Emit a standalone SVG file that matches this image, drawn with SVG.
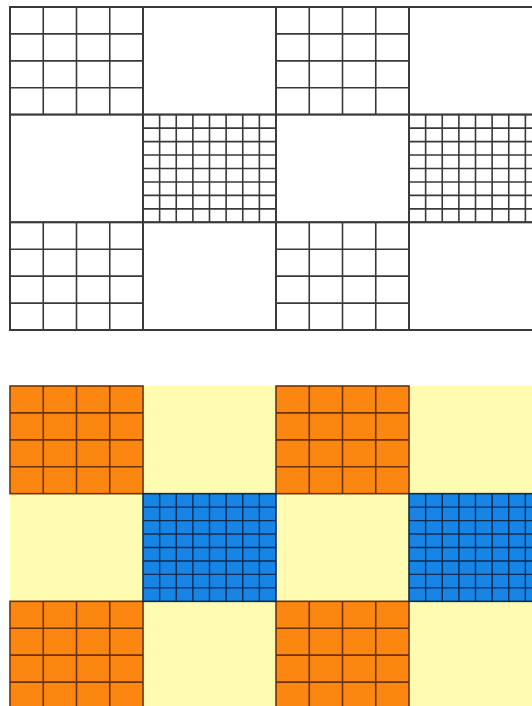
<svg xmlns="http://www.w3.org/2000/svg" xmlns:xlink="http://www.w3.org/1999/xlink" width="532" height="706" viewBox="0 0 532 706">
<style>
.wf{fill:#ffffff;stroke:#3a3a3a;stroke-width:2}
.wl{fill:none;stroke:#3a3a3a;stroke-width:1.6}
.or{fill:#fb8610;stroke:#6e3208;stroke-width:1.6}
.ol{fill:none;stroke:#6e3208;stroke-width:1.6}
.ye{fill:#fffcb2;stroke:none}
.bl{fill:#1685e6;stroke:#0f2a50;stroke-width:1.6}
.bll{fill:none;stroke:#0f2a50;stroke-width:1.4}
</style>
<defs>
<path id="g4" d="M33.25 0V107.67M66.5 0V107.67M99.75 0V107.67M0 26.92H133M0 53.83H133M0 80.75H133"/>
<path id="g8" d="M16.63 0V107.67M33.25 0V107.67M49.88 0V107.67M66.5 0V107.67M83.13 0V107.67M99.75 0V107.67M116.38 0V107.67M0 13.46H133M0 26.92H133M0 40.38H133M0 53.83H133M0 67.29H133M0 80.75H133M0 94.21H133"/>
</defs>
<rect width="532" height="706" fill="#ffffff"/>
<g id="top-panel">
<g id="t-r1c1"><rect class="wf" x="10" y="7" width="133" height="107.67"/><use href="#g4" class="wl" x="10" y="7"/></g>
<g id="t-r1c2"><rect class="wf" x="143" y="7" width="133" height="107.67"/></g>
<g id="t-r1c3"><rect class="wf" x="276" y="7" width="133" height="107.67"/><use href="#g4" class="wl" x="276" y="7"/></g>
<g id="t-r1c4"><rect class="wf" x="409" y="7" width="133" height="107.67"/></g>
<g id="t-r2c1"><rect class="wf" x="10" y="114.67" width="133" height="107.67"/></g>
<g id="t-r2c2"><rect class="wf" x="143" y="114.67" width="133" height="107.67"/><use href="#g8" class="wl" x="143" y="114.67"/></g>
<g id="t-r2c3"><rect class="wf" x="276" y="114.67" width="133" height="107.67"/></g>
<g id="t-r2c4"><rect class="wf" x="409" y="114.67" width="133" height="107.67"/><use href="#g8" class="wl" x="409" y="114.67"/></g>
<g id="t-r3c1"><rect class="wf" x="10" y="222.33" width="133" height="107.67"/><use href="#g4" class="wl" x="10" y="222.33"/></g>
<g id="t-r3c2"><rect class="wf" x="143" y="222.33" width="133" height="107.67"/></g>
<g id="t-r3c3"><rect class="wf" x="276" y="222.33" width="133" height="107.67"/><use href="#g4" class="wl" x="276" y="222.33"/></g>
<g id="t-r3c4"><rect class="wf" x="409" y="222.33" width="133" height="107.67"/></g>
</g>
<g id="bottom-panel">
<g id="b-r1c2"><rect class="ye" x="143" y="386" width="133" height="107.67"/></g>
<g id="b-r1c4"><rect class="ye" x="409" y="386" width="133" height="107.67"/></g>
<g id="b-r2c1"><rect class="ye" x="10" y="493.67" width="133" height="107.67"/></g>
<g id="b-r2c3"><rect class="ye" x="276" y="493.67" width="133" height="107.67"/></g>
<g id="b-r3c2"><rect class="ye" x="143" y="601.33" width="133" height="107.67"/></g>
<g id="b-r3c4"><rect class="ye" x="409" y="601.33" width="133" height="107.67"/></g>
<g id="b-r1c1"><rect class="or" x="10" y="386" width="133" height="107.67"/><use href="#g4" class="ol" x="10" y="386"/></g>
<g id="b-r1c3"><rect class="or" x="276" y="386" width="133" height="107.67"/><use href="#g4" class="ol" x="276" y="386"/></g>
<g id="b-r3c1"><rect class="or" x="10" y="601.33" width="133" height="107.67"/><use href="#g4" class="ol" x="10" y="601.33"/></g>
<g id="b-r3c3"><rect class="or" x="276" y="601.33" width="133" height="107.67"/><use href="#g4" class="ol" x="276" y="601.33"/></g>
<g id="b-r2c2"><rect class="bl" x="143" y="493.67" width="133" height="107.67"/><use href="#g8" class="bll" x="143" y="493.67"/></g>
<g id="b-r2c4"><rect class="bl" x="409" y="493.67" width="133" height="107.67"/><use href="#g8" class="bll" x="409" y="493.67"/></g>
</g>
<g id="connectors"/>
</svg>
